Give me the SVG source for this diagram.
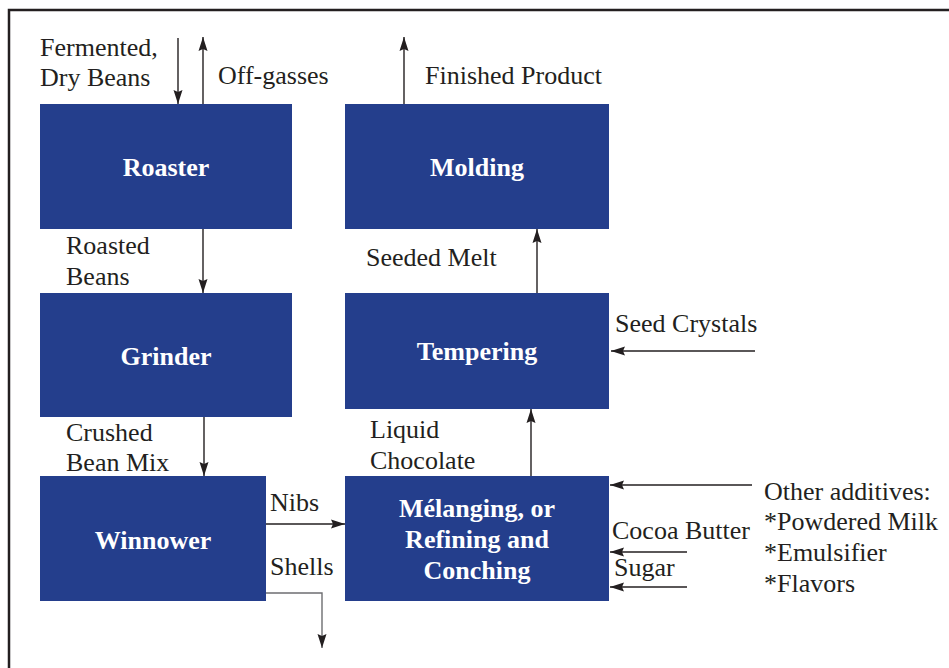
<svg xmlns="http://www.w3.org/2000/svg" width="949" height="668" viewBox="0 0 949 668">
<defs>
<marker id="ah" markerWidth="14" markerHeight="10" refX="14" refY="5" orient="auto" markerUnits="userSpaceOnUse">
<path d="M0,0.5 L14,5 L0,9.5 L2,5 Z" fill="#231f20"/>
</marker>
<style>
.box{fill:#243e8c}
.c{stroke:#231f20;stroke-width:1.4;fill:none;marker-end:url(#ah)}
.g{stroke:#6d6e71}
</style>
</defs>
<rect width="949" height="668" fill="#ffffff"/>
<path d="M9,668 V10 H949" stroke="#231f20" stroke-width="2.5" fill="none"/>

<g font-family="Liberation Serif, Times New Roman, serif" font-weight="bold" font-size="26" fill="#ffffff" text-anchor="middle">
<g id="roaster"><rect class="box" x="40" y="104" width="252" height="125"/><text x="166" y="176">Roaster</text></g>
<g id="grinder"><rect class="box" x="40" y="293" width="252" height="124"/><text x="166" y="365">Grinder</text></g>
<g id="winnower"><rect class="box" x="40" y="476" width="226" height="125"/><text x="153" y="549">Winnower</text></g>
<g id="molding"><rect class="box" x="345" y="104" width="264" height="125"/><text x="477" y="176">Molding</text></g>
<g id="tempering"><rect class="box" x="345" y="293" width="264" height="116"/><text x="477" y="360">Tempering</text></g>
<g id="melanging"><rect class="box" x="345" y="476" width="264" height="125"/>
<text x="477" y="517">Mélanging, or</text>
<text x="477" y="548">Refining and</text>
<text x="477" y="579">Conching</text></g>
</g>

<g id="connectors">
<line class="c" x1="178" y1="38" x2="178" y2="104"/>
<line class="c" x1="203" y1="104" x2="203" y2="37"/>
<line class="c" x1="203" y1="229" x2="203" y2="293"/>
<line class="c" x1="204" y1="417" x2="204" y2="476"/>
<line class="c" x1="266" y1="524" x2="345" y2="524"/>
<polyline class="c g" points="266,593 322,593 322,648"/>
<line class="c" x1="404" y1="104" x2="404" y2="37"/>
<line class="c" x1="537" y1="293" x2="537" y2="229"/>
<line class="c" x1="531" y1="476" x2="531" y2="409"/>
<line class="c" x1="755" y1="351" x2="611" y2="351"/>
<line class="c" x1="752" y1="485" x2="610" y2="485"/>
<line class="c" x1="687" y1="552" x2="610" y2="552"/>
<line class="c" x1="687" y1="587" x2="610" y2="587"/>
</g>

<g id="labels" font-family="Liberation Serif, Times New Roman, serif" font-size="26" fill="#231f20">
<text x="40" y="56">Fermented,</text>
<text x="40" y="86">Dry Beans</text>
<text x="218" y="84">Off-gasses</text>
<text x="425" y="84">Finished Product</text>
<text x="66" y="254">Roasted</text>
<text x="66" y="285">Beans</text>
<text x="66" y="441">Crushed</text>
<text x="66" y="471">Bean Mix</text>
<text x="270" y="511">Nibs</text>
<text x="270" y="575">Shells</text>
<text x="366" y="266">Seeded Melt</text>
<text x="370" y="438">Liquid</text>
<text x="370" y="469">Chocolate</text>
<text x="615" y="332">Seed Crystals</text>
<text x="764" y="500">Other additives:</text>
<text x="764" y="530">*Powdered Milk</text>
<text x="764" y="561">*Emulsifier</text>
<text x="764" y="592">*Flavors</text>
<text x="612" y="539">Cocoa Butter</text>
<text x="614" y="576">Sugar</text>
</g>
</svg>
